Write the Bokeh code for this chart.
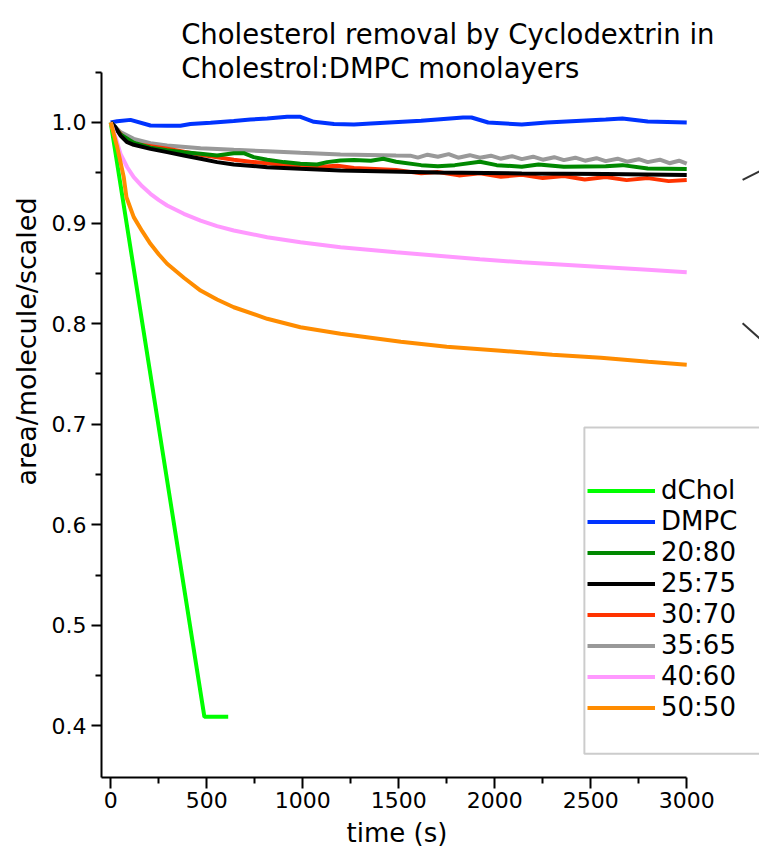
import math
from bokeh.plotting import figure
from bokeh.models import (Range1d, FixedTicker, PrintfTickFormatter, Legend, LegendItem,
                          Label, BoxAnnotation, Arrow, Title)
from bokeh.embed import file_html
from bokeh.resources import INLINE

# ---------------- data ----------------
title_lines = ["Cholesterol removal by Cyclodextrin in", "Cholestrol:DMPC monolayers"]
x_title = "time (s)"
y_title = "area/molecule/scaled"

series_names = ["dChol", "DMPC", "20:80", "25:75", "30:70", "35:65", "40:60", "50:50"]
series_colors = ["#00FF00", "#0033FF", "#008800", "#000000", "#FF3300", "#999999", "#FF99FF", "#FF8C00"]

dchol_t = [0, 488, 612]
dchol_v = [1.0, 0.409, 0.409]

dmpc_t = [0, 34, 103, 207, 294, 363, 415, 520, 641, 728, 815, 919, 988, 1058, 1163, 1267,
          1355, 1617, 1835, 1879, 1966, 2141, 2272, 2578, 2665, 2797, 3000]
dmpc_v = [1.0, 1.0013, 1.0026, 0.997, 0.9967, 0.9968, 0.9985, 0.9998, 1.0014, 1.003, 1.004,
          1.0057, 1.0057, 1.0007, 0.9984, 0.998, 0.999, 1.0017, 1.005, 1.005, 1.000, 0.998,
          1.000, 1.003, 1.004, 1.001, 1.000]

c2080_t = [0, 51, 120, 207, 294, 381, 468, 554, 641, 693, 745, 815, 902, 988, 1075, 1127,
           1197, 1267, 1355, 1420, 1486, 1617, 1704, 1792, 1923, 2010, 2141, 2228, 2360,
           2578, 2665, 2797, 3000]
c2080_v = [1.0, 0.988, 0.980, 0.975, 0.9725, 0.9705, 0.9689, 0.9672, 0.9695, 0.9695, 0.9656,
           0.9629, 0.9606, 0.959, 0.9583, 0.9606, 0.9622, 0.9626, 0.962, 0.964, 0.961, 0.9576,
           0.9566, 0.9576, 0.961, 0.9576, 0.956, 0.9583, 0.956, 0.9566, 0.9576, 0.9543, 0.9537]

c2575_t = [0, 25, 51, 86, 120, 207, 294, 381, 468, 554, 641, 815, 988, 1197, 1704, 2141,
           2578, 3000]
c2575_v = [1.0, 0.9953, 0.987, 0.9804, 0.9778, 0.9738, 0.9705, 0.9672, 0.9639, 0.9606,
           0.9583, 0.9556, 0.954, 0.9523, 0.9503, 0.9494, 0.9487, 0.9477]

c3070_t = [0, 86, 120, 207, 294, 381, 468, 554, 641, 728, 815, 940, 1092, 1180, 1267, 1486,
           1617, 1704, 1813, 1923, 2032, 2141, 2250, 2360, 2469, 2578, 2687, 2797, 2906, 3000]
c3070_v = [1.0, 0.981, 0.979, 0.9765, 0.9738, 0.971, 0.968, 0.9655, 0.963, 0.961, 0.9595,
           0.9576, 0.956, 0.957, 0.9547, 0.9527, 0.9494, 0.9507, 0.9474, 0.9494, 0.946,
           0.948, 0.9447, 0.9467, 0.9434, 0.9457, 0.9427, 0.9447, 0.9417, 0.9427]

c3565_t = [0, 51, 120, 207, 294, 468, 641, 815, 988, 1197, 1486, 1560, 1600, 1650, 1704,
           1760, 1810, 1870, 1923, 1980, 2030, 2090, 2141, 2200, 2250, 2310, 2360, 2420,
           2470, 2530, 2578, 2640, 2690, 2750, 2797, 2860, 2910, 2960, 3000]
c3565_v = [1.0, 0.9904, 0.9837, 0.9794, 0.9771, 0.9744, 0.9728, 0.9715, 0.9698, 0.9682,
           0.9672, 0.967, 0.9650, 0.9680, 0.966, 0.9685, 0.9650, 0.9675, 0.9650, 0.9670,
           0.9640, 0.9665, 0.9636, 0.9660, 0.9630, 0.9655, 0.9626, 0.9650, 0.9620, 0.9645,
           0.9616, 0.9640, 0.9610, 0.9635, 0.9606, 0.9630, 0.9595, 0.9620, 0.959]

c4060_t = [0, 25, 51, 86, 120, 164, 207, 251, 294, 381, 468, 554, 641, 815, 988, 1197, 1486,
           1704, 1923, 2141, 2360, 2578, 2797, 3000]
c4060_v = [1.0, 0.9854, 0.9689, 0.9555, 0.9456, 0.9365, 0.9291, 0.9228, 0.9175, 0.9092,
           0.9025, 0.897, 0.8926, 0.8859, 0.881, 0.876, 0.871, 0.8675, 0.864, 0.861, 0.8585,
           0.856, 0.8535, 0.851]

c5050_t = [0, 34, 68, 82, 120, 164, 207, 251, 294, 381, 468, 554, 641, 815, 988, 1197, 1511,
           1750, 2032, 2300, 2553, 2800, 3000]
c5050_v = [1.0, 0.9755, 0.9456, 0.9257, 0.9059, 0.8919, 0.8794, 0.8687, 0.8595, 0.8456,
           0.8329, 0.824, 0.8163, 0.8048, 0.7964, 0.7899, 0.782, 0.777, 0.773, 0.769, 0.766,
           0.762, 0.759]

series_t = [dchol_t, dmpc_t, c2080_t, c2575_t, c3070_t, c3565_t, c4060_t, c5050_t]
series_v = [dchol_v, dmpc_v, c2080_v, c2575_v, c3070_v, c3565_v, c4060_v, c5050_v]

x_major = [0, 500, 1000, 1500, 2000, 2500, 3000]
x_minor = [250, 750, 1250, 1750, 2250, 2750]
y_major = [0.4, 0.5, 0.6, 0.7, 0.8, 0.9, 1.0]
y_minor = [0.45, 0.55, 0.65, 0.75, 0.85, 0.95, 1.05]

FONT = "DejaVu Sans"

# ---------------- figure ----------------
p = figure(width=759, height=857, x_range=Range1d(-47.9, 3379), y_range=Range1d(0.3487, 1.1213),
           output_backend="svg", toolbar_location=None,
           min_border_left=101, min_border_right=0, min_border_top=0, min_border_bottom=80)
p.title.visible = False
p.outline_line_color = None
p.xgrid.visible = False
p.ygrid.visible = False
p.background_fill_color = "white"

p.xaxis.bounds = (-47.9, 3000)
p.yaxis.bounds = (0.3487, 1.05)
for ax, maj, mnr, out, stand in ((p.xaxis, x_major, x_minor, 11, 3), (p.yaxis, y_major, y_minor, 10, 5)):
    ax.ticker = FixedTicker(ticks=maj, minor_ticks=mnr)
    ax.axis_line_width = 2
    ax.axis_line_color = "black"
    ax.major_tick_line_width = 2
    ax.minor_tick_line_width = 2
    ax.major_tick_line_color = "black"
    ax.minor_tick_line_color = "black"
    ax.major_tick_out = out
    ax.major_tick_in = 0
    ax.minor_tick_out = 6
    ax.minor_tick_in = 0
    ax.major_label_text_font = FONT
    ax.major_label_text_font_size = "22px"
    ax.major_label_text_color = "black"
    ax.major_label_standoff = stand
p.yaxis.formatter = PrintfTickFormatter(format="%.1f")

# draw order: later on top
draw_order = [0, 1, 5, 4, 2, 3, 6, 7]
renderers = {}
for i in draw_order:
    renderers[i] = p.line(series_t[i], series_v[i], line_color=series_colors[i], line_width=4)

legend = Legend(items=[LegendItem(label=series_names[i], renderers=[renderers[i]]) for i in range(8)],
                location=(486, 55), margin=0, padding=0, border_line_alpha=0,
                background_fill_alpha=0, glyph_width=68, glyph_height=29, label_height=29,
                label_standoff=6, spacing=1, label_text_font=FONT, label_text_font_size="26px",
                label_text_color="black")
p.add_layout(legend)

p.add_layout(BoxAnnotation(left=2467, right=3600, top=0.6967, bottom=0.3722, fill_alpha=0,
                           fill_color=None, line_color="#555555", line_width=2))

p.add_layout(Arrow(end=None, x_start=3291, y_start=0.943, x_end=3380, y_end=0.9515,
                   line_color="#333333", line_width=2))
p.add_layout(Arrow(end=None, x_start=3291, y_start=0.8004, x_end=3380, y_end=0.7852,
                   line_color="#333333", line_width=2))

p.add_layout(Label(x=367, y=1.0875, text=title_lines[0], text_font=FONT, text_font_size="27.5px",
                   text_align="left", text_baseline="alphabetic", text_color="black"))
p.add_layout(Label(x=367, y=1.0538, text=title_lines[1], text_font=FONT, text_font_size="27.5px",
                   text_align="left", text_baseline="alphabetic", text_color="black"))

p.add_layout(Title(text=y_title, align="left", offset=292, standoff=14, text_font=FONT,
                   text_font_size="27px", text_font_style="normal", text_color="black"), "left")
p.add_layout(Title(text=x_title, align="left", offset=245, standoff=10, text_font=FONT,
                   text_font_size="26px", text_font_style="normal", text_color="black"), "below")

open("out.html", "w").write(file_html(p, INLINE))
